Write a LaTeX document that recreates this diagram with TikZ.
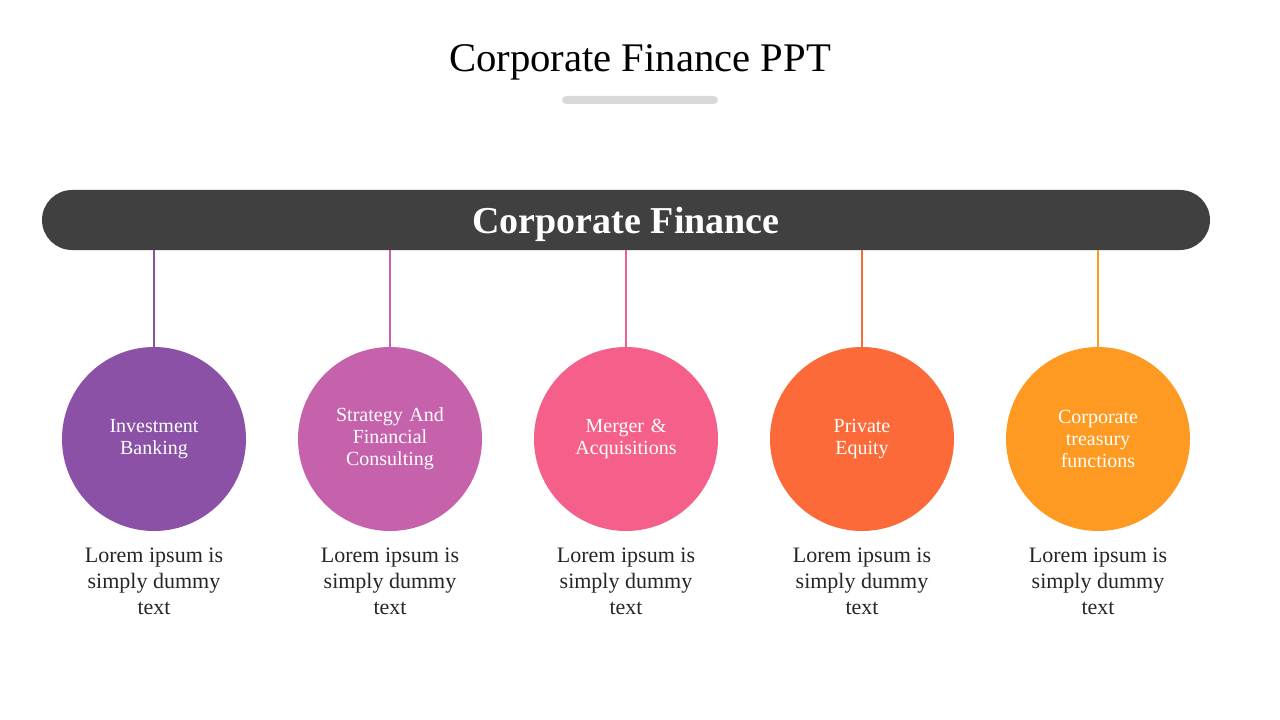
\documentclass[tikz,border=0pt]{standalone}
\usepackage{fontspec}
\setmainfont{Liberation Serif}
\definecolor{barc}{HTML}{404040}
\definecolor{linec}{HTML}{D9D9D9}
\definecolor{txtc}{HTML}{262626}
\definecolor{c1}{HTML}{8B51A7}
\definecolor{c2}{HTML}{C662AC}
\definecolor{c3}{HTML}{F5608A}
\definecolor{c4}{HTML}{FB6A38}
\definecolor{c5}{HTML}{FE9A22}
\begin{document}
\begin{tikzpicture}[x=0.75pt,y=-0.75pt,
  ball/.style={circle,minimum size=138pt,inner sep=0pt,align=center,text=white,font=\fontsize{15}{16.5}\selectfont,text width=100pt},
  stem/.style={line width=2.2pt},
  desc/.style={align=center,text=txtc,font=\fontsize{16.5}{19.5}\selectfont,anchor=north,inner sep=0pt}]
\useasboundingbox[fill=white] (0,0) rectangle (1280,720);
\node[font=\fontsize{30.5}{34}\selectfont] (title) at (640,62) {Corporate Finance PPT};
\fill[linec,rounded corners=3pt] (562,96) rectangle (718,104);
\node[fill=barc,rounded corners=22.5pt,minimum width=876pt,minimum height=45pt,inner sep=0pt] (bar) at (626,220) {};
\node[text=white,font=\fontsize{28.5}{32}\bfseries\selectfont,inner sep=0pt] (barlabel) at (626,224) {Corporate Finance};
\foreach \i/\x/\c/\t in {1/154/c1/{Investment\\Banking},2/390/c2/{Strategy And\\Financial\\Consulting},3/626/c3/{Merger \&\\Acquisitions},4/862/c4/{Private\\Equity},5/1098/c5/{Corporate\\treasury\\functions}}{
  \node[ball,fill=\c] (b\i) at (\x,439) {\t};
  \coordinate (t\i) at (\x,250);
  \draw[stem,\c] (t\i) -- (b\i.north);
  \node[desc] (d\i) at (\x,548) {Lorem ipsum is\\simply dummy\\text};
}
\end{tikzpicture}
\end{document}
